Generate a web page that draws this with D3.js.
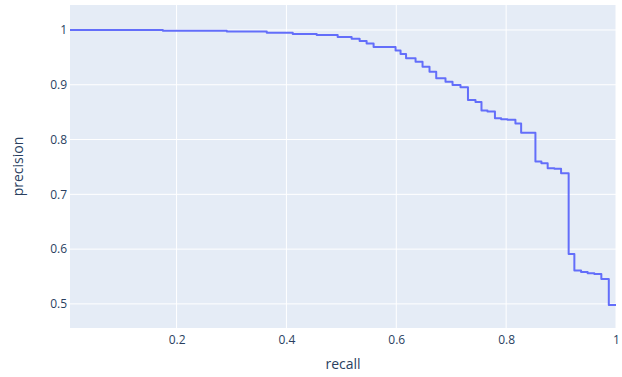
<!DOCTYPE html>
<html>
<head>
<meta charset="utf-8">
<script src="https://cdn.jsdelivr.net/npm/d3@7"></script>
<style>
  body { margin: 0; background: #fff; }
  text { font-family: "Open Sans", "Noto Sans", sans-serif; fill: #2a3f5f; }
</style>
</head>
<body>
<svg id="chart" width="622" height="377"></svg>
<script>
// precision-recall curve
var recall = [0.006, 0.1751, 0.2915, 0.3642, 0.4115, 0.4551, 0.4933, 0.5187, 0.5333, 0.546,
    0.5587, 0.5987, 0.6078, 0.6178, 0.6351, 0.6478, 0.6605, 0.6727, 0.6896, 0.7024,
    0.7169, 0.7305, 0.7442, 0.7551, 0.766, 0.7796, 0.7909, 0.8024, 0.8169, 0.8273,
    0.8533, 0.8642, 0.8756, 0.8878, 0.9, 0.9138, 0.9242, 0.9364, 0.9484, 0.9605,
    0.9733, 0.9869, 1.0];
var precision = [1.0, 0.9987, 0.9974, 0.9951, 0.9927, 0.9909, 0.9872, 0.9841, 0.9799, 0.9754,
    0.969, 0.9626, 0.9562, 0.9484, 0.9422, 0.933, 0.9239, 0.9119, 0.9057, 0.8996,
    0.8954, 0.8723, 0.8686, 0.8531, 0.8513, 0.8389, 0.837, 0.8361, 0.8294, 0.8124,
    0.7597, 0.7568, 0.7476, 0.7467, 0.7385, 0.5912, 0.5611, 0.558, 0.556, 0.5547,
    0.5456, 0.4982, 0.4982];
var xTicks = [0.2, 0.4, 0.6, 0.8, 1];
var yTicks = [0.5, 0.6, 0.7, 0.8, 0.9, 1];

var width = 622, height = 377;
var margin = { left: 70, top: 5, right: 6, bottom: 49 };

var svg = d3.select("#chart");

var x = d3.scaleLinear().domain([0.006, 1]).range([margin.left, width - margin.right]);
var y = d3.scaleLinear().domain([0.456, 1.0456]).range([height - margin.bottom, margin.top]);

// plot background
svg.append("rect")
    .attr("x", margin.left)
    .attr("y", margin.top)
    .attr("width", width - margin.left - margin.right)
    .attr("height", height - margin.top - margin.bottom)
    .attr("fill", "#e5ecf6");

// grid lines
svg.append("g").selectAll("line")
    .data(xTicks)
    .enter().append("line")
    .attr("x1", function (d) { return x(d); })
    .attr("x2", function (d) { return x(d); })
    .attr("y1", margin.top)
    .attr("y2", height - margin.bottom)
    .attr("stroke", "#fff")
    .attr("stroke-width", 1);

svg.append("g").selectAll("line")
    .data(yTicks)
    .enter().append("line")
    .attr("x1", margin.left)
    .attr("x2", width - margin.right)
    .attr("y1", function (d) { return y(d); })
    .attr("y2", function (d) { return y(d); })
    .attr("stroke", "#fff")
    .attr("stroke-width", 1);

// axes, only the labels are kept
var xAxis = svg.append("g")
    .attr("transform", "translate(0," + (height - margin.bottom) + ")")
    .call(d3.axisBottom(x).tickValues(xTicks).tickSize(0).tickPadding(7)
        .tickFormat(function (d) { return d3.format("~g")(d); }));
xAxis.select(".domain").remove();
xAxis.selectAll("text").attr("font-size", 12).style("fill", "#2a3f5f");

var yAxis = svg.append("g")
    .attr("transform", "translate(" + margin.left + ",0)")
    .call(d3.axisLeft(y).tickValues(yTicks).tickSize(0).tickPadding(3)
        .tickFormat(function (d) { return d3.format("~g")(d); }));
yAxis.select(".domain").remove();
yAxis.selectAll("text").attr("font-size", 12).style("fill", "#2a3f5f");

// the curve
var points = recall.map(function (r, i) { return [r, precision[i]]; });
var line = d3.line()
    .x(function (d) { return x(d[0]); })
    .y(function (d) { return y(d[1]); })
    .curve(d3.curveStepAfter);

svg.append("path")
    .datum(points)
    .attr("d", line)
    .attr("fill", "none")
    .attr("stroke", "#636efa")
    .attr("stroke-width", 2)
    .attr("stroke-linejoin", "round");

// axis titles
svg.append("text")
    .attr("x", (margin.left + width - margin.right) / 2)
    .attr("y", 369)
    .attr("text-anchor", "middle")
    .attr("font-size", 14)
    .text("recall");

svg.append("text")
    .attr("transform", "translate(23," + ((margin.top + height - margin.bottom) / 2) + ") rotate(-90)")
    .attr("text-anchor", "middle")
    .attr("font-size", 14)
    .text("precision");
</script>
</body>
</html>
